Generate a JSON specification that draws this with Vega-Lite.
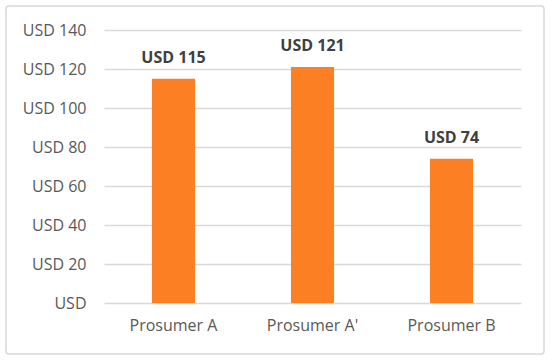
{
  "$schema": "https://vega.github.io/schema/vega-lite/v6.json",
  "autosize": "none",
  "width": 538,
  "height": 348,
  "padding": {"left": 6, "top": 6, "right": 6, "bottom": 7},
  "background": "white",
  "config": {
    "view": {"stroke": "#d9d9d9", "strokeWidth": 1.5, "cornerRadius": 3},
    "font": "Open Sans"
  },
  "data": {
    "values": [
      {"name": "Prosumer A", "value": 115, "label": "USD 115"},
      {"name": "Prosumer A'", "value": 121, "label": "USD 121"},
      {"name": "Prosumer B", "value": 74, "label": "USD 74"}
    ]
  },
  "encoding": {
    "x": {
      "field": "name",
      "type": "nominal",
      "sort": null,
      "scale": {"range": [98, 515], "paddingInner": 0.69, "paddingOuter": 0.345},
      "axis": {
        "title": null,
        "domain": false,
        "ticks": false,
        "labelAngle": 0,
        "labelFont": "Open Sans",
        "labelFontSize": 16,
        "labelColor": "#595959",
        "labelPadding": 14,
        "offset": -51
      }
    },
    "y": {
      "field": "value",
      "type": "quantitative",
      "scale": {"domain": [0, 140], "range": [297, 24], "nice": false},
      "axis": {
        "title": null,
        "values": [0, 20, 40, 60, 80, 100, 120, 140],
        "labelExpr": "datum.value == 0 ? 'USD\u00a0' : 'USD ' + datum.value",
        "domain": false,
        "ticks": false,
        "grid": true,
        "gridColor": "#d9d9d9",
        "gridWidth": 1.5,
        "labelFont": "Open Sans",
        "labelFontSize": 16,
        "labelColor": "#595959",
        "labelPadding": 18,
        "offset": -98
      }
    }
  },
  "layer": [
    {"mark": {"type": "bar", "color": "#fd7f24"}},
    {
      "mark": {
        "type": "text",
        "font": "Open Sans",
        "fontSize": 16,
        "fontWeight": "bold",
        "color": "#404040",
        "baseline": "alphabetic",
        "dy": -16
      },
      "encoding": {"text": {"field": "label", "type": "nominal"}}
    }
  ]
}
